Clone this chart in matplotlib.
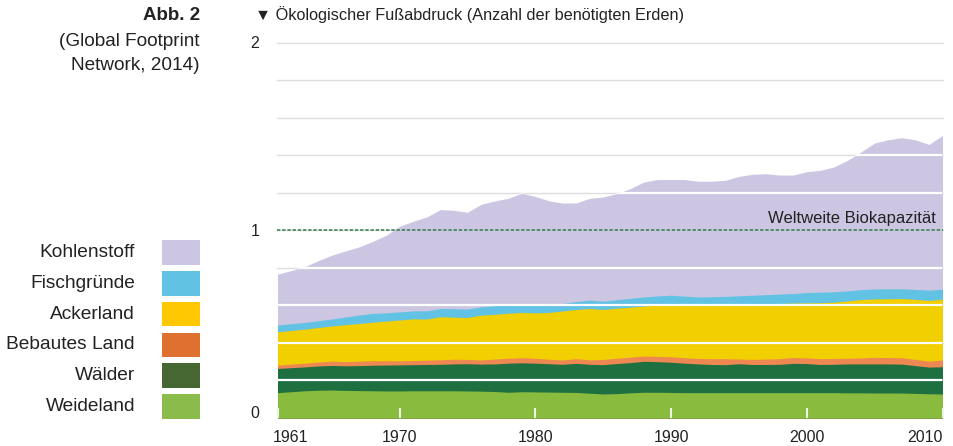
import numpy as np
import matplotlib.pyplot as plt
from matplotlib.patches import Rectangle
from matplotlib.transforms import ScaledTranslation

plt.rcParams['font.family'] = ['Liberation Sans', 'DejaVu Sans']

# years shown on the x axis
years = np.arange(1961, 2011)

# upper edge of each stacked layer (number of Earths)
weideland_top = [0.135, 0.140, 0.145, 0.148, 0.149, 0.147, 0.146, 0.145, 0.144, 0.144,
                 0.145, 0.145, 0.145, 0.145, 0.144, 0.143, 0.141, 0.137, 0.140, 0.139,
                 0.138, 0.137, 0.136, 0.132, 0.128, 0.130, 0.134, 0.137, 0.137, 0.136,
                 0.135, 0.135, 0.135, 0.135, 0.135, 0.135, 0.135, 0.135, 0.135, 0.135,
                 0.135, 0.135, 0.134, 0.134, 0.133, 0.133, 0.133, 0.131, 0.129, 0.128]
waelder_top = [0.264, 0.268, 0.272, 0.277, 0.280, 0.278, 0.279, 0.281, 0.282, 0.283,
               0.284, 0.285, 0.286, 0.288, 0.289, 0.287, 0.288, 0.292, 0.294, 0.292,
               0.289, 0.286, 0.291, 0.286, 0.284, 0.290, 0.295, 0.302, 0.300, 0.297,
               0.292, 0.288, 0.285, 0.284, 0.289, 0.285, 0.285, 0.286, 0.291, 0.290,
               0.285, 0.286, 0.288, 0.288, 0.288, 0.288, 0.287, 0.279, 0.271, 0.273]
bebaut_top = [0.282, 0.287, 0.292, 0.298, 0.303, 0.300, 0.303, 0.305, 0.305, 0.305,
              0.306, 0.308, 0.310, 0.313, 0.312, 0.309, 0.314, 0.318, 0.321, 0.318,
              0.313, 0.309, 0.316, 0.310, 0.312, 0.318, 0.324, 0.330, 0.328, 0.326,
              0.321, 0.317, 0.316, 0.316, 0.314, 0.312, 0.314, 0.316, 0.322, 0.320,
              0.316, 0.317, 0.318, 0.320, 0.323, 0.322, 0.321, 0.312, 0.303, 0.309]
acker_top = [0.459, 0.466, 0.473, 0.482, 0.490, 0.497, 0.503, 0.510, 0.516, 0.522,
             0.528, 0.527, 0.539, 0.537, 0.535, 0.548, 0.552, 0.558, 0.562, 0.560,
             0.562, 0.570, 0.578, 0.583, 0.578, 0.585, 0.590, 0.596, 0.602, 0.606,
             0.601, 0.599, 0.600, 0.600, 0.602, 0.605, 0.607, 0.610, 0.612, 0.613,
             0.614, 0.617, 0.623, 0.631, 0.634, 0.635, 0.636, 0.632, 0.626, 0.633]
fisch_top = [0.495, 0.502, 0.509, 0.518, 0.527, 0.538, 0.548, 0.557, 0.560, 0.565,
             0.570, 0.571, 0.583, 0.582, 0.580, 0.592, 0.598, 0.604, 0.606, 0.606,
             0.606, 0.610, 0.620, 0.628, 0.622, 0.630, 0.637, 0.645, 0.650, 0.654,
             0.649, 0.645, 0.646, 0.648, 0.651, 0.654, 0.657, 0.660, 0.663, 0.668,
             0.670, 0.672, 0.677, 0.684, 0.687, 0.688, 0.688, 0.685, 0.681, 0.686]
kohlenstoff_top = [0.766, 0.785, 0.806, 0.838, 0.867, 0.890, 0.911, 0.940, 0.973, 1.021,
                   1.048, 1.071, 1.110, 1.106, 1.096, 1.138, 1.156, 1.170, 1.197, 1.180,
                   1.157, 1.145, 1.145, 1.170, 1.177, 1.195, 1.222, 1.257, 1.270, 1.270,
                   1.270, 1.261, 1.261, 1.266, 1.287, 1.298, 1.301, 1.294, 1.294, 1.312,
                   1.319, 1.337, 1.372, 1.417, 1.465, 1.482, 1.493, 1.482, 1.457, 1.505]

biokapazitaet = 1.0

legend_labels = ['Kohlenstoff', 'Fischgründe', 'Ackerland', 'Bebautes Land', 'Wälder', 'Weideland']
legend_colors = ['#CCC6E3', '#62C2E3', '#FFC800', '#E07030', '#466732', '#8BBB4A']

xtick_years = [1961, 1970, 1980, 1990, 2000, 2010]

W, H = 954, 446
fig = plt.figure(figsize=(W / 100, H / 100), dpi=100)
ax = fig.add_axes([277.5 / W, (H - 418) / H, 665 / W, 375.5 / H])
ax.set_xlim(1961, 2010)
ax.set_ylim(0, 2)

# light grey grid in the empty part
for g in np.arange(0.2, 2.01, 0.2):
    ax.axhline(g, color='#DEDEDE', lw=1, zorder=0.5, clip_on=False)

# stacked areas (carbon drawn from 0 so it also gives the clip shape)
total = ax.fill_between(years, 0, kohlenstoff_top, color='#CCC6E3', lw=0, zorder=1)
ax.fill_between(years, 0, fisch_top, color='#62C2E3', lw=0, zorder=1)
ax.fill_between(years, 0, acker_top, color='#F2CF00', lw=0, zorder=1)
ax.fill_between(years, 0, bebaut_top, color='#EE8852', lw=0, zorder=1)
ax.fill_between(years, 0, waelder_top, color='#1E7040', lw=0, zorder=1)
ax.fill_between(years, 0, weideland_top, color='#88BB3E', lw=0, zorder=1)

# white grid lines inside the areas
clip = total.get_paths()[0]
for g in np.arange(0.2, 2.01, 0.2):
    if abs(g - biokapazitaet) < 1e-6:
        continue
    ln = ax.axhline(g, color='white', lw=1.6, zorder=2)
    ln.set_clip_path(clip, ax.transData)

# world biocapacity
ax.axhline(biokapazitaet, color='#2E7D46', lw=1.1, ls=(0, (2.2, 1.2)), zorder=3)
ax.text(2009.5, biokapazitaet + 0.022, 'Weltweite Biokapazität', ha='right', va='bottom',
        fontsize=12, color='#222222')

for s in ax.spines.values():
    s.set_visible(False)

ax.set_yticks([0, 1, 2])
ax.set_yticklabels(['0', '1', '2'])
ax.tick_params(axis='y', length=0, pad=13, labelsize=11.5, labelcolor='#222222')
ylabels = ax.get_yticklabels()
ylabels[0].set_va('baseline')

ax.set_xticks(xtick_years)
ax.set_xticklabels([str(y) for y in xtick_years])
ax.tick_params(axis='x', direction='in', length=7, width=1.5, color='#EEF3E4',
               pad=8.5, labelsize=11.5, labelcolor='#222222')
xlabels = ax.get_xticklabels()
xlabels[0].set_ha('left')
xlabels[0].set_transform(xlabels[0].get_transform() + ScaledTranslation(-5 / 100, 0, fig.dpi_scale_trans))
xlabels[-1].set_ha('right')

# title above the plot
fig.text(255 / W, 1 - 15 / H, '▼ Ökologischer Fußabdruck (Anzahl der benötigten Erden)',
         ha='left', va='center', fontsize=11.7, color='#222222')

# figure caption on the left
fig.text(200 / W, 1 - 15 / H, 'Abb. 2', ha='right', va='center', fontsize=13.5,
         fontweight='bold', color='#222222')
fig.text(200 / W, 1 - 42 / H, '(Global Footprint', ha='right', va='center', fontsize=13.7,
         color='#222222')
fig.text(200 / W, 1 - 65 / H, 'Network, 2014)', ha='right', va='center', fontsize=13.7,
         color='#222222')

# legend boxes
for i, (lab, col) in enumerate(zip(legend_labels, legend_colors)):
    yc = 252.5 + i * 30.8
    fig.add_artist(Rectangle((162 / W, 1 - (yc + 12.3) / H), 38 / W, 24.6 / H,
                             transform=fig.transFigure, color=col, lw=0))
    fig.text(135 / W, 1 - yc / H, lab, ha='right', va='center', fontsize=13.8,
             color='#222222')

fig.savefig('out.png', dpi=100)
